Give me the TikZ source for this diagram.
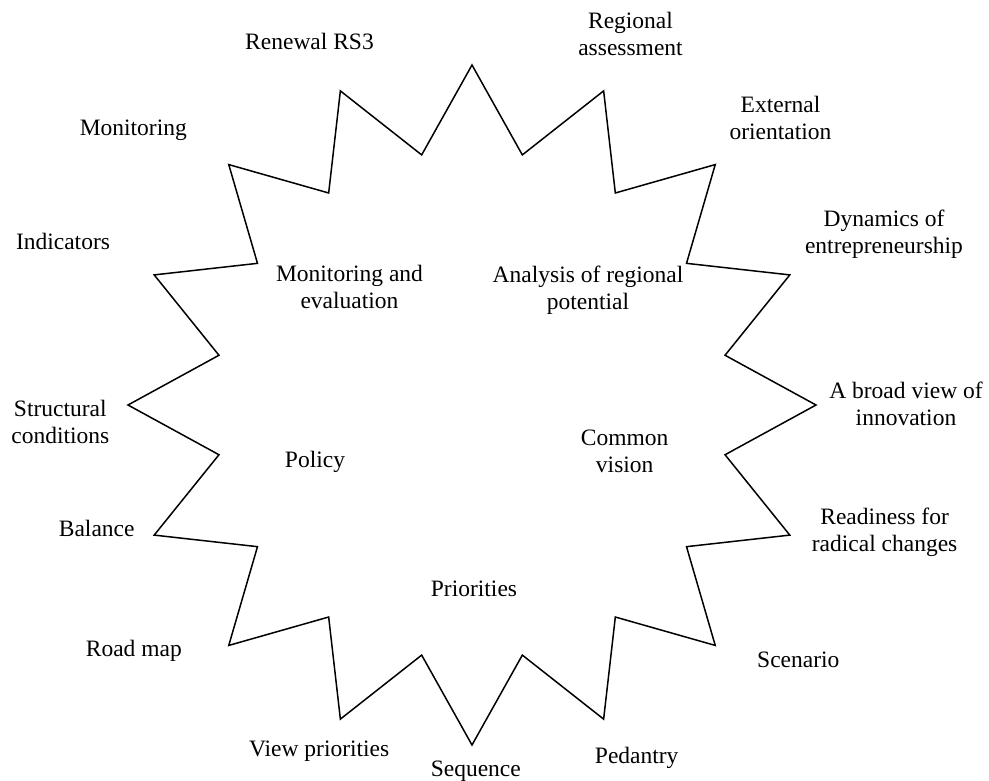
\documentclass[tikz,border=0pt]{standalone}
\usepackage{fontspec}
\setmainfont{Liberation Serif}
\usetikzlibrary{positioning}
\tikzset{
every node/.style={align=center,anchor=base,inner sep=0pt,font=\fontsize{23.5}{27}\selectfont},
outside/.style={text=black},
inside/.style={text=black},
starline/.style={draw=black,line width=1.5pt,line join=miter}
}

\begin{document}
\begin{tikzpicture}[x=1pt,y=-1pt]
\useasboundingbox (0,0) rectangle (989,780);

% sixteen pointed star
\draw[starline,shift={(472,405)}] (90:344 and 340)
  \foreach \k in {0,...,15} {
    -- ({101.25+\k*22.5}:258 and 255) -- ({112.5+\k*22.5}:344 and 340)
  } -- cycle;

% inner labels (base = last line)
\node[inside] (c1) at (349.5,308.7) {Monitoring and\\evaluation};
\node[inside] (c2) at (588,309.3) {Analysis of regional\\potential};
\node[inside] (c3) at (624.7,472.6) {Common\\vision};
\node[inside] (c4) at (315,467) {Policy};
\node[inside] (c5) at (474,596.7) {Priorities};

% outer labels
\node[outside] (t1) at (309.5,49) {Renewal RS3};
\node[outside] (t2) at (630.5,55.3) {Regional\\assessment};
\node[outside] (t3) at (133.3,135) {Monitoring};
\node[outside] (t4) at (780.5,139.3) {External\\orientation};
\node[outside] (t5) at (884,253.3) {Dynamics of\\entrepreneurship};
\node[outside] (t6) at (63,249) {Indicators};
\node[outside] (t7) at (906,425.3) {A broad view of\\innovation};
\node[outside] (t8) at (60.3,443.7) {Structural\\conditions};
\node[outside] (t9) at (96.7,536.7) {Balance};
\node[outside] (t10) at (884.6,551) {Readiness for\\radical changes};
\node[outside] (t11) at (133.8,656.7) {Road map};
\node[outside] (t12) at (798.3,667.7) {Scenario};
\node[outside] (t13) at (319.2,756.7) {View priorities};
\node[outside] (t14) at (636.7,763.3) {Pedantry};
\node[outside] (t15) at (475.8,776.7) {Sequence};
\end{tikzpicture}
\end{document}
